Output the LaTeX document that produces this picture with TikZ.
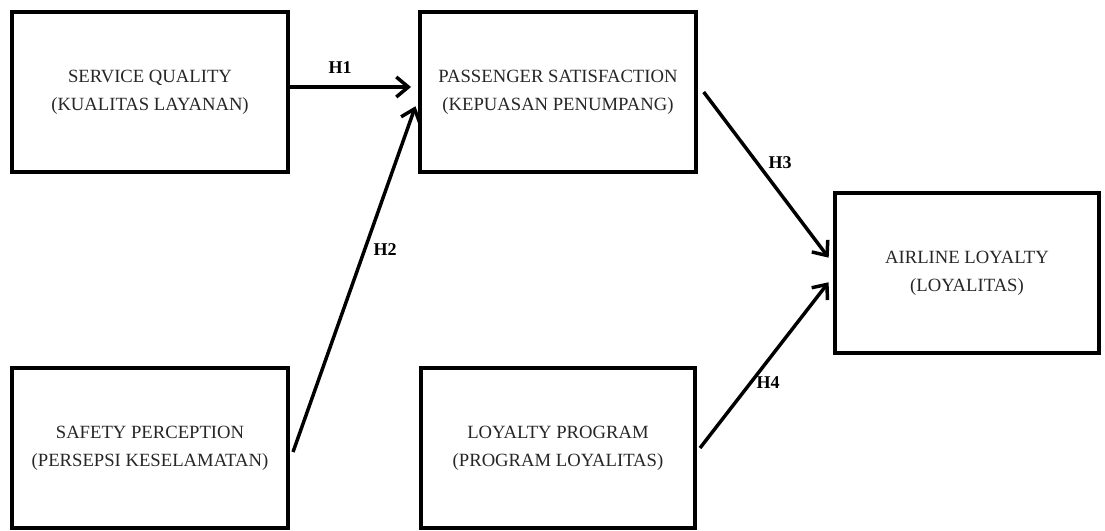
\documentclass[tikz,border=0pt]{standalone}
\usepackage{fontspec}
\setmainfont{Liberation Serif}
\usetikzlibrary{arrows.meta,calc}
\begin{document}
\begin{tikzpicture}[x=0.75pt,y=-0.75pt,
  box/.style={draw,line width=3.5pt,minimum width=#1*0.75pt,minimum height=160*0.75pt,inner sep=0pt,
    align=center,font=\fontsize{14}{21}\selectfont,text=black!85},
  arr/.style={line width=2.6pt,-{Straight Barb[length=9pt,width=15pt,line width=2.6pt]},shorten >=5pt},
  lab/.style={font=\fontsize{13.5}{16}\selectfont\bfseries}]
\useasboundingbox (0,0) rectangle (1105,531);
\node[box=276] (SQ) at (150,92) {SERVICE QUALITY\\(KUALITAS LAYANAN)};
\node[box=276] (PS) at (558,92) {PASSENGER SATISFACTION\\(KEPUASAN PENUMPANG)};
\node[box=264] (AL) at (967,273) {AIRLINE LOYALTY\\(LOYALITAS)};
\node[box=276] (SP) at (150,448) {SAFETY PERCEPTION\\(PERSEPSI KESELAMATAN)};
\node[box=274] (LP) at (558,448) {LOYALTY PROGRAM\\(PROGRAM LOYALITAS)};
\draw[arr] ([yshift=3.75pt]SQ.east) -- ([yshift=3.75pt]PS.west);
\draw[arr] ([xshift=2pt,yshift=-3pt]SP.east) -- ([yshift=-6pt]PS.west);
\draw[arr] ([xshift=4pt]PS.east) -- ([yshift=7.5pt]AL.west);
\draw[arr] ([xshift=2pt]LP.east) -- ([yshift=-3pt]AL.west);
\node[lab] (h1) at (340,68) {H1};
\node[lab] (h2) at (385,250) {H2};
\node[lab] (h3) at (780,163) {H3};
\node[lab] (h4) at (768,383) {H4};
\end{tikzpicture}
\end{document}
